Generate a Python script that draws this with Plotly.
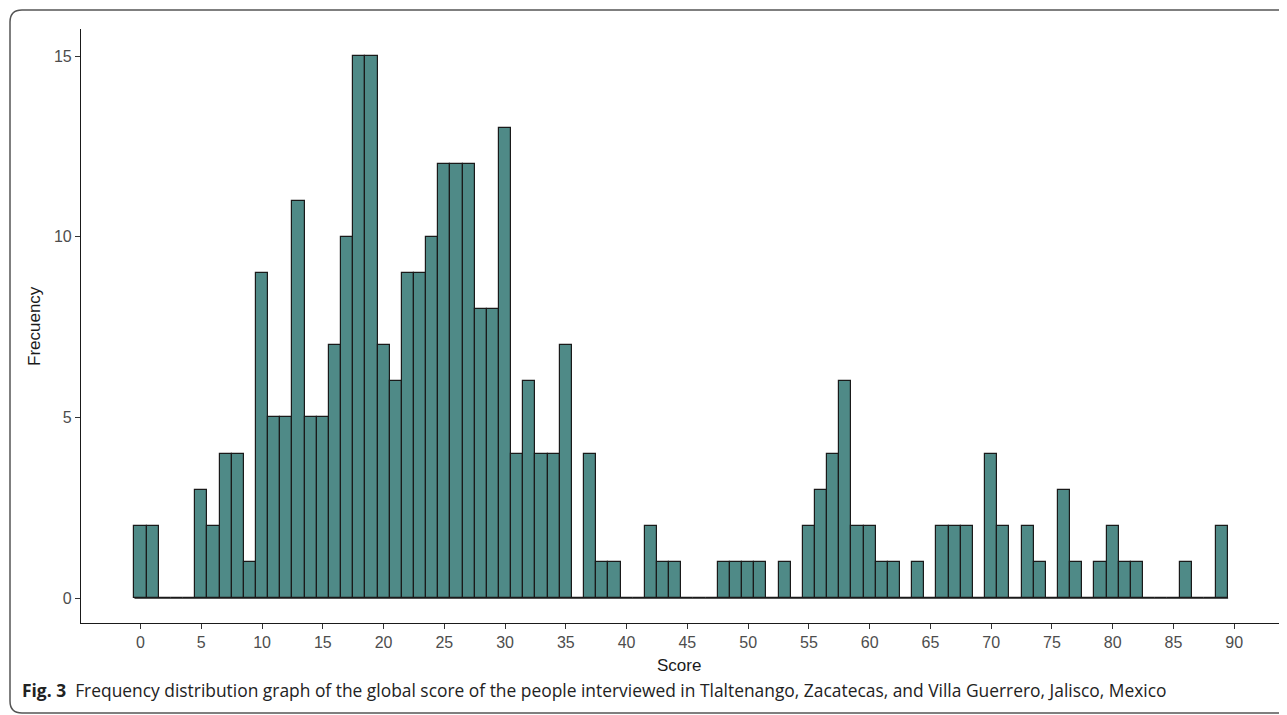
import plotly.graph_objects as go

scores = list(range(0, 90))
counts = [2, 2, 0, 0, 0, 3, 2, 4, 4, 1,
          9, 5, 5, 11, 5, 5, 7, 10, 15, 15,
          7, 6, 9, 9, 10, 12, 12, 12, 8, 8,
          13, 4, 6, 4, 4, 7, 0, 4, 1, 1,
          0, 0, 2, 1, 1, 0, 0, 0, 1, 1,
          1, 1, 0, 1, 0, 2, 3, 4, 6, 2,
          2, 1, 1, 0, 1, 0, 2, 2, 2, 0,
          4, 2, 0, 2, 1, 0, 3, 1, 0, 1,
          2, 1, 1, 0, 0, 0, 1, 0, 0, 2]
x_ticks = list(range(0, 95, 5))
y_ticks = [0, 5, 10, 15]
x_title = "Score"
y_title = "Frecuency"
caption_bold = "Fig. 3"
caption_text = "Frequency distribution graph of the global score of the people interviewed in Tlaltenango, Zacatecas, and Villa Guerrero, Jalisco, Mexico"

OFF = 8  # page body margin
W, H = 1287 - OFF, 715 - OFF
# target plot box in window pixels
PL, PR, PT, PB = 81, 1284, 29, 623
L, T = PL - OFF, PT - OFF
R, B = W - (PR - OFF), H - (PB - OFF)
pw, ph = W - L - R, H - T - B

def px(x):
    return (x - OFF - L) / pw

def py(y):
    return (H - B - (y - OFF)) / ph

fig = go.Figure()
fig.add_trace(go.Scatter(
    x=[scores[0] - 0.5, scores[-1] + 0.5], y=[0, 0], mode="lines",
    line=dict(color="#1a1a1a", width=1.2), hoverinfo="skip", showlegend=False))
fig.add_trace(go.Bar(
    x=scores, y=counts, width=1,
    marker=dict(color="#4f8a87", line=dict(color="#1a1a1a", width=1.2)),
    showlegend=False))

# rounded frame
r = 12
x0, y0, x1, y1 = 10, 10, 1300, 713
path = (f"M {px(x0)},{py(y0 + r)} Q {px(x0)},{py(y0)} {px(x0 + r)},{py(y0)} "
        f"L {px(x1)},{py(y0)} M {px(x0)},{py(y0 + r)} L {px(x0)},{py(y1 - r)} "
        f"Q {px(x0)},{py(y1)} {px(x0 + r)},{py(y1)} L {px(x1)},{py(y1)}")
fig.add_shape(type="path", path=path, xref="paper", yref="paper",
              line=dict(color="#555555", width=1.5), layer="below")

fig.add_annotation(
    x=px(20), y=py(690), xref="paper", yref="paper", xanchor="left", yanchor="middle",
    text=f"<b>{caption_bold}</b>  {caption_text}", showarrow=False,
    font=dict(family="Open Sans", size=17.4, color="#222222"))
fig.add_annotation(
    x=px(679), y=py(665), xref="paper", yref="paper", xanchor="center", yanchor="middle",
    text=x_title, showarrow=False,
    font=dict(family="Arial", size=17, color="#1a1a1a"))
fig.add_annotation(
    x=px(34), y=py(326), xref="paper", yref="paper", xanchor="center", yanchor="middle",
    text=y_title, showarrow=False, textangle=-90,
    font=dict(family="Arial", size=17, color="#1a1a1a"))

fig.update_layout(
    width=W, height=H,
    margin=dict(l=L, r=R, t=T, b=B, autoexpand=False),
    plot_bgcolor="white", paper_bgcolor="white",
    bargap=0,
    xaxis=dict(range=[-4.9, 94.1], tickvals=x_ticks, ticks="outside", ticklen=5,
               tickcolor="#333333", showline=True, linecolor="#1a1a1a", linewidth=1.2,
               showgrid=False, zeroline=False, automargin=False,
               tickfont=dict(family="Arial", size=16, color="#4d4d4d")),
    yaxis=dict(range=[-0.69, 15.75], tickvals=y_ticks, ticks="outside", ticklen=5,
               tickcolor="#333333", showline=True, linecolor="#1a1a1a", linewidth=1.2,
               showgrid=False, zeroline=False, automargin=False,
               tickfont=dict(family="Arial", size=16, color="#4d4d4d")),
)
fig.write_html("out.html")
